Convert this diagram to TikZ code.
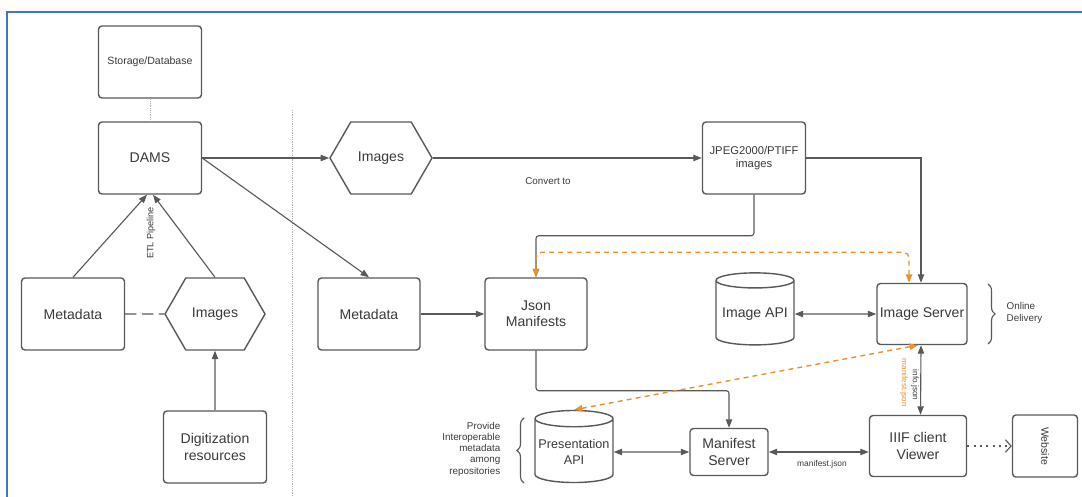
\documentclass[tikz,border=0pt]{standalone}
\usepackage{graphicx}
\usepackage{fontspec}
\setmainfont{Liberation Sans}
\usetikzlibrary{calc,arrows.meta,shapes.geometric,shapes.symbols,decorations.pathreplacing}
\definecolor{linegray}{HTML}{595959}
\definecolor{textgray}{HTML}{3A3A3A}
\definecolor{lineorange}{HTML}{E8922E}
\definecolor{frameblue}{HTML}{4472C4}

\begin{document}
\begin{tikzpicture}[x=0.025cm, y=-0.025cm,
	box/.style={draw=linegray, line width=1pt, rounded corners=2.5pt, fill=white, text=textgray, align=center, inner sep=1pt, minimum width=2.575cm, minimum height=1.8cm, font=\fontsize{10}{11.5}\selectfont},
	hexa/.style={signal, signal to=west and east, signal pointer angle=120, draw=linegray, line width=1pt, text=textgray, inner sep=1pt, minimum width=2.5cm, minimum height=1.8cm, font=\fontsize{10}{11.5}\selectfont},
	db/.style={cylinder, shape border rotate=90, aspect=0.22, draw=linegray, line width=1pt, fill=white, text=textgray, align=center, inner sep=1pt, minimum width=1.95cm, minimum height=1.8cm, font=\fontsize{10}{11.5}\selectfont},
	conn/.style={draw=linegray, line width=0.8pt, -{Triangle[length=6pt,width=4.5pt]}},
	both/.style={draw=linegray, line width=0.8pt, {Triangle[length=6pt,width=4.5pt]}-{Triangle[length=6pt,width=4.5pt]}},
	orangeline/.style={draw=lineorange, line width=1pt, dash pattern=on 3.5pt off 3pt, {Triangle[length=6pt,width=4.5pt]}-{Triangle[length=6pt,width=4.5pt]}},
	divider/.style={draw=gray!60, line width=0.6pt, dash pattern=on 0.8pt off 0.8pt},
	note/.style={text=textgray, inner sep=1pt, font=\fontsize{7}{8}\selectfont}
]
	%%%%% FRAME %%%%%
	\useasboundingbox (0,0) rectangle (1082,497);
	\draw[frameblue, line width=1.6pt] (7,497) -- (7,12) -- (1082,12);
	\draw[divider] (292,110) -- (292,497);
	
	%%%%% LEFT SIDE %%%%%
	\node[box, font=\fontsize{7.5}{9}\selectfont] (storage) at (150,62) {Storage/Database};
	\node[box] (dams) at (150,158) {DAMS};
	\node[box] (metaL) at (73,314) {Metadata};
	\node[hexa] (imgL) at (215,314) {Images};
	\node[box] (digit) at (215,447) {Digitization\\resources};
	
	\draw[divider] (storage) -- (dams);
	\draw[conn] (metaL.north) -- ($(dams.south)+(-3,0)$);
	\draw[conn] (imgL.north) -- ($(dams.south)+(3,0)$);
	\node[note, rotate=90, font=\fontsize{6.5}{7}\selectfont] (etl) at (151,233) {ETL Pipeline};
	\draw[draw=linegray, line width=0.8pt, dash pattern=on 8pt off 4pt] (metaL) -- (imgL);
	\draw[conn] (digit) -- (imgL);
	
	%%%%% RIGHT SIDE %%%%%
	\node[hexa, minimum width=2.55cm] (imgR) at (381,158) {Images};
	\node[box, font=\fontsize{8}{9.5}\selectfont] (jpeg) at (754,158) {JPEG2000/PTIFF\\images};
	\node[box, minimum width=2.55cm] (metaR) at (369,314) {Metadata};
	\node[box, minimum width=2.55cm] (json) at (536,314) {Json\\Manifests};
	\node[db] (api) at (755,314) {Image API};
	\node[box, minimum width=2.25cm, minimum height=1.525cm] (imgsrv) at (922,314) {Image Server};
	\node[db, font=\fontsize{9}{11}\selectfont] (pres) at (574,452) {Presentation\\API};
	\node[box, minimum width=1.95cm, minimum height=1.175cm] (mfs) at (729,452) {Manifest\\Server};
	\node[box, minimum width=2.425cm, minimum height=1.525cm] (iiif) at (918,446) {IIIF client\\Viewer};
	\node[box, minimum width=1.625cm, minimum height=1.55cm] (web) at (1045,446) {\rotatebox{-90}{\fontsize{7.5}{9}\selectfont Website}};
	
	\draw[conn] (dams.east) -- (imgR.west);
	\draw[conn] (dams.east) -- (metaR.north);
	\draw[conn] (imgR.east) -- (jpeg.west);
	\node[note] (convert) at (548,181) {Convert to};
	\draw[conn] (jpeg.east) -| ($(imgsrv.north)+(-1,0)$);
	\draw[conn, rounded corners=2pt] (jpeg.south) -- ++(0,41) -| (json.north);
	\draw[orangeline, rounded corners=4pt] (json.north) -- ++(0,-25) -| ($(imgsrv.north)+(-13,0)$);
	\draw[conn] (metaR) -- (json);
	\draw[both] (api) -- (imgsrv);
	\draw[conn, rounded corners=2pt] (json.south) -- ++(0,40) -| (mfs.north);
	\draw[both] (pres.east) -- (mfs.west);
	\draw[both] (mfs.east) -- (mfs.east -| iiif.west);
	\node[note, font=\fontsize{6}{7}\selectfont] (mjson) at (822,464) {manifest.json};
	\draw[both] ($(imgsrv.south)+(-1,0)$) -- ($(iiif.north)+(2.5,0)$);
	\node[note, rotate=-90, font=\fontsize{5.8}{7}\selectfont] (info) at (915,385) {info.json};
	\draw[orangeline] ($(imgsrv.south)+(-4,0)$) -- (pres.north);
	\node[note, rotate=-90, text=lineorange, font=\fontsize{5.8}{7}\selectfont] (mjsonB) at (904,383) {manifest.json};
	\draw[draw=linegray, line width=0.8pt, dash pattern=on 1.5pt off 3pt, -{Straight Barb[length=4pt,width=9pt]}] (iiif) -- (web);
	
	%%%%% BRACES %%%%%
	\draw[draw=linegray, line width=0.8pt, decorate, decoration={brace, amplitude=5pt}] (988,284) -- (988,344);
	\node[note, anchor=west, align=left] (online) at (1005,313) {Online\\Delivery};
	\draw[draw=linegray, line width=0.8pt, decorate, decoration={brace, amplitude=5pt}] (524,483) -- (524,418);
	\node[note, anchor=east, align=right] (provide) at (502,449) {Provide\\Interoperable\\metadata\\among\\repositories};
\end{tikzpicture}
\end{document}
